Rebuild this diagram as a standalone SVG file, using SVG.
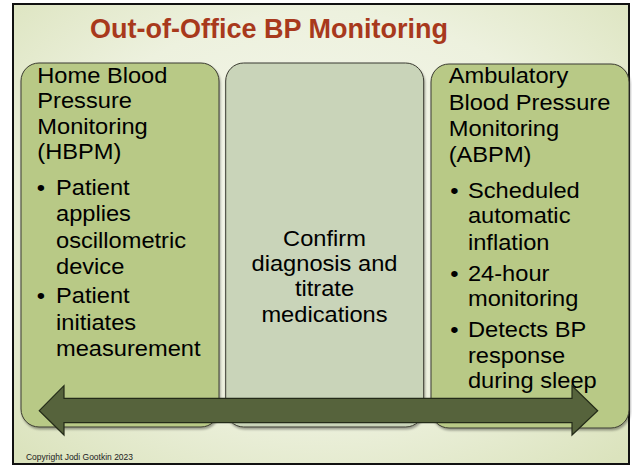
<svg xmlns="http://www.w3.org/2000/svg" width="632" height="465" viewBox="0 0 632 465">
<defs>
<radialGradient id="bg" cx="50%" cy="45%" r="72%">
<stop offset="0" stop-color="#f6f8ee"/>
<stop offset="0.6" stop-color="#edf1de"/>
<stop offset="1" stop-color="#dbe3bd"/>
</radialGradient>
<filter id="sh" x="-5%" y="-5%" width="110%" height="110%">
<feDropShadow dx="1" dy="2" stdDeviation="1.2" flood-color="#000" flood-opacity="0.35"/>
</filter>
<style>
.box{stroke:#3a3a30;stroke-width:1}
.side{fill:#b8c986}
.mid{fill:#c9d4b9}
.t{font-family:"Liberation Sans",Arial,sans-serif;font-size:21.5px;fill:#000}
.title{font-family:"Liberation Sans",Arial,sans-serif;font-size:27px;font-weight:bold;fill:#a8391c}
.copy{font-family:"Liberation Sans",Arial,sans-serif;font-size:9px;fill:#222}
</style>
</defs>
<rect x="0" y="0" width="632" height="465" fill="#fff"/>
<rect x="13" y="4" width="616" height="460" fill="url(#bg)" stroke="#111" stroke-width="2"/>
<text class="title" x="269" y="38" text-anchor="middle">Out-of-Office BP Monitoring</text>

<g id="hbpm">
<rect class="box side" x="21" y="63" width="198" height="364" rx="18" filter="url(#sh)"/>
<g transform="translate(37.3 0) scale(1.1 1)">
<text class="t" x="0" y="82.7">Home Blood</text>
<text class="t" x="0" y="108.3">Pressure</text>
<text class="t" x="0" y="134">Monitoring</text>
<text class="t" x="0" y="159">(HBPM)</text>
<text class="t" x="-0.5" y="195">•</text>
<text class="t" x="17" y="195">Patient</text>
<text class="t" x="17" y="221.5">applies</text>
<text class="t" x="17" y="248">oscillometric</text>
<text class="t" x="17" y="274">device</text>
<text class="t" x="-0.5" y="303.5">•</text>
<text class="t" x="17" y="303.5">Patient</text>
<text class="t" x="17" y="330.5">initiates</text>
<text class="t" x="17" y="356.5">measurement</text>
</g>
</g>

<g id="confirm">
<rect class="box mid" x="225.7" y="63" width="198" height="364" rx="18" filter="url(#sh)"/>
<g transform="translate(324.5 0) scale(1.1 1)">
<text class="t" x="0" y="246" text-anchor="middle">Confirm</text>
<text class="t" x="0" y="270.7" text-anchor="middle">diagnosis and</text>
<text class="t" x="0" y="296" text-anchor="middle">titrate</text>
<text class="t" x="0" y="321.7" text-anchor="middle">medications</text>
</g>
</g>

<g id="abpm">
<rect class="box side" x="431" y="64" width="198" height="364" rx="18" filter="url(#sh)"/>
<g transform="translate(448.7 0) scale(1.1 1)">
<text class="t" x="0" y="83.3">Ambulatory</text>
<text class="t" x="0" y="109.7">Blood Pressure</text>
<text class="t" x="0" y="136">Monitoring</text>
<text class="t" x="0" y="162">(ABPM)</text>
<text class="t" x="1.5" y="198.3">•</text>
<text class="t" x="17.5" y="198.3">Scheduled</text>
<text class="t" x="17.5" y="223">automatic</text>
<text class="t" x="17.5" y="250">inflation</text>
<text class="t" x="1.5" y="280.7">•</text>
<text class="t" x="17.5" y="280.7">24-hour</text>
<text class="t" x="17.5" y="305.7">monitoring</text>
<text class="t" x="1.5" y="336.7">•</text>
<text class="t" x="17.5" y="336.7">Detects BP</text>
<text class="t" x="17.5" y="362.7">response</text>
<text class="t" x="17.5" y="387.7">during sleep</text>
</g>
</g>

<g id="connectors">
<polygon points="39.3,410.7 64,385.7 64,398.3 572,398.3 572,385.7 597.7,410.7 572,435 572,422.7 64,422.7 64,435" fill="#56633c" stroke="#232a18" stroke-width="1.2" stroke-linejoin="miter"/>
</g>

<text class="copy" x="26" y="460" textLength="107" lengthAdjust="spacingAndGlyphs">Copyright Jodi Gootkin 2023</text>
</svg>
